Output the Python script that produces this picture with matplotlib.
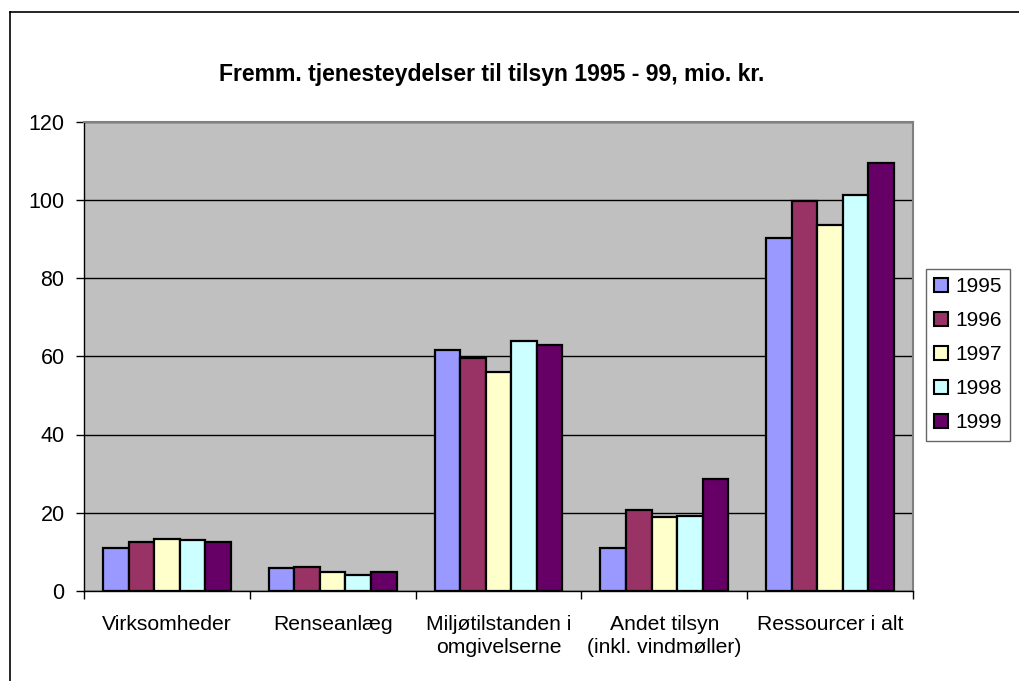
import matplotlib
matplotlib.use("Agg")
import matplotlib.pyplot as plt
import numpy as np
from matplotlib.lines import Line2D

plt.rcParams['font.family'] = ['Liberation Sans', 'DejaVu Sans']

categories = ["Virksomheder", "Renseanlæg", "Miljøtilstanden i\nomgivelserne",
              "Andet tilsyn\n(inkl. vindmøller)", "Ressourcer i alt"]
years = ["1995", "1996", "1997", "1998", "1999"]
v1995 = [11.1, 5.9, 61.7, 11.1, 90.2]
v1996 = [12.4, 6.2, 59.6, 20.7, 99.6]
v1997 = [13.4, 4.9, 55.9, 18.9, 93.5]
v1998 = [13.0, 4.2, 64.0, 19.1, 101.2]
v1999 = [12.4, 4.9, 63.0, 28.5, 109.3]
series = [v1995, v1996, v1997, v1998, v1999]
colors = ["#9999FF", "#993366", "#FFFFCC", "#CCFFFF", "#660066"]
title = "Fremm. tjenesteydelser til tilsyn 1995 - 99, mio. kr."
yticks = [0, 20, 40, 60, 80, 100, 120]

fig = plt.figure(figsize=(10.19, 6.81), dpi=100)
ax = fig.add_axes([84/1019, 1-591/681, (913-84)/1019, (591-121.5)/681])
ax.set_facecolor("#C0C0C0")

w = 0.1544
x = np.arange(len(categories))
for i, (vals, c) in enumerate(zip(series, colors)):
    ax.bar(x + (i - 2) * w, vals, width=w, color=c, edgecolor="black",
           linewidth=1.6, label=years[i], zorder=3)

ax.set_xlim(-0.5, len(categories) - 0.5)
ax.set_ylim(0, 120)
ax.set_yticks(yticks)
ax.set_yticklabels([str(t) for t in yticks], fontsize=15.5)
ax.yaxis.grid(True, color="black", linewidth=1.0, zorder=1)
ax.set_axisbelow(True)

ax.set_xticks(np.arange(len(categories) + 1) - 0.5, minor=False)
ax.set_xticklabels([])
ax.set_xticks(x, minor=True)
ax.set_xticklabels(categories, minor=True, fontsize=15.2, linespacing=1.3)
ax.tick_params(axis="x", which="major", direction="out", length=6, width=1, color="black")
ax.tick_params(axis="x", which="minor", length=0, pad=17)
ax.tick_params(axis="y", direction="out", length=6, width=1, pad=8)

for s in ["top", "right"]:
    ax.spines[s].set_color("#808080")
    ax.spines[s].set_linewidth(1.5)
for s in ["left", "bottom"]:
    ax.spines[s].set_color("black")
    ax.spines[s].set_linewidth(1.0)

fig.text(492/1019, 1-75/681, title, fontsize=16.6, fontweight="bold",
         ha="center", va="center")

leg = fig.legend(loc="upper left", bbox_to_anchor=(926/1019, 1-269/681),
                 fontsize=15, frameon=True, fancybox=False, handlelength=0.65,
                 handleheight=0.65, handletextpad=0.35, labelspacing=0.72,
                 borderpad=0.4, borderaxespad=0)
leg.get_frame().set_edgecolor("#404040")
leg.get_frame().set_linewidth(1.0)
for h in leg.legend_handles:
    h.set_linewidth(1.5)

# outer chart border (top and left visible)
fig.add_artist(Line2D([10/1019, 10/1019], [0, 1-12/681], transform=fig.transFigure,
                      color="black", linewidth=1.2))
fig.add_artist(Line2D([10/1019, 1], [1-12/681, 1-12/681], transform=fig.transFigure,
                      color="black", linewidth=1.2))

fig.savefig("out.png", dpi=100, facecolor="white")
